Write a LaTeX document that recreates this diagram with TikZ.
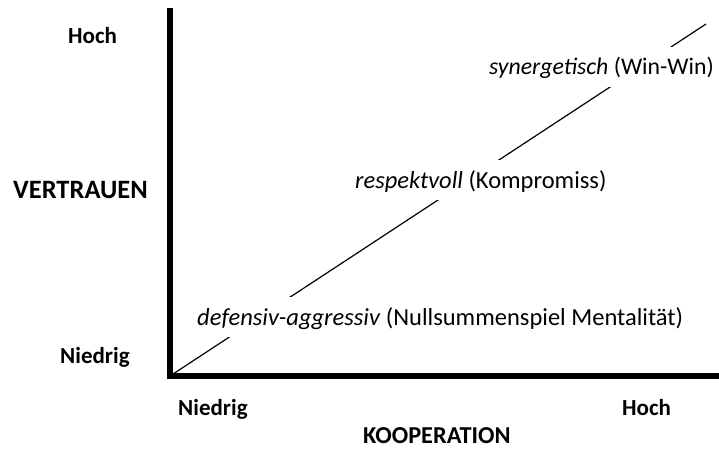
\documentclass[tikz,border=0pt]{standalone}
\usepackage{fontspec}
\setmainfont{Carlito}
\begin{document}
\begin{tikzpicture}[x=1pt,y=-1pt,
  axis/.style={line width=6pt},
  diag/.style={line width=1.2pt},
  level/.style={anchor=base west, fill=white, inner xsep=0pt, inner ysep=6pt,
    text height=22pt, text depth=6pt, font=\fontsize{24.5}{28}\selectfont},
  tick/.style={anchor=base west, inner sep=0pt, font=\fontsize{23}{27}\selectfont\bfseries},
  title/.style={anchor=base west, inner sep=0pt, font=\fontsize{26.5}{30}\selectfont\bfseries}]
\useasboundingbox (0,0) rectangle (719,449);
\coordinate (top) at (170,8);
\coordinate (o) at (170,376);
\coordinate (right) at (719,376);
\coordinate (end) at (706,24);
\draw[axis] (top) -- (170,379);
\draw[axis] (167,376) -- (right);
\draw[diag] (o) -- (end);
\node[level] (def) at (197,325) {\textit{defensiv-aggressiv} (Nullsummenspiel Mentalität)};
\node[level] (res) at (355,188) {\textit{respektvoll} (Kompromiss)};
\node[level, anchor=base east, font=\fontsize{23.8}{28}\selectfont] (syn) at (714,75) {\textit{synergetisch} (Win-Win)};
\node[tick] (yhi) at (68,44) {Hoch};
\node[title] (ytit) at (13,198) {VERTRAUEN};
\node[tick] (ylo) at (60,363) {Niedrig};
\node[tick] (xlo) at (178,415) {Niedrig};
\node[tick] (xhi) at (622,415) {Hoch};
\node[title, font=\fontsize{24.3}{28}\selectfont\bfseries] (xtit) at (363,443.5) {KOOPERATION};
\end{tikzpicture}
\end{document}
